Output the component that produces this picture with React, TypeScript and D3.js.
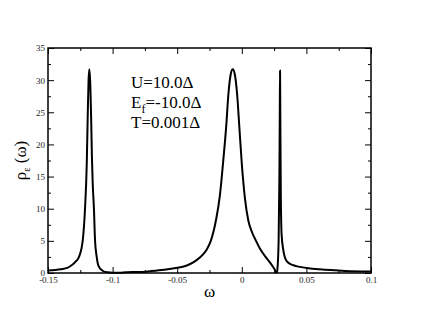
import React from 'react';
import * as d3 from 'd3';

const owidth = 430;
const oheight = 332;
const margin = { left: 48, top: 48, right: 59, bottom: 59 };
const iwidth = owidth - margin.left - margin.right;
const iheight = oheight - margin.top - margin.bottom;

// spectral function rho_eps(omega)
const omega = [
  -0.150, -0.140, -0.135, -0.1317, -0.129, -0.126, -0.1231, -0.1214, -0.1200, -0.1193, -0.1186,
  -0.1180, -0.1174, -0.1166, -0.1160, -0.1154, -0.1144, -0.1136, -0.1123, -0.1111, -0.108, -0.104,
  -0.100, -0.095, -0.090, -0.085, -0.080, -0.070, -0.060, -0.050, -0.045, -0.040, -0.035, -0.030,
  -0.027, -0.024, -0.020, -0.017, -0.0143, -0.012, -0.0105, -0.0085, -0.007, -0.0055, -0.0035,
  -0.002, 0.000, 0.0025, 0.005, 0.008, 0.011, 0.014, 0.017, 0.020, 0.023, 0.025, 0.027,
  0.0275, 0.0285, 0.0291, 0.0294, 0.0296, 0.0298, 0.0302, 0.0308, 0.0321, 0.0334, 0.036, 0.040,
  0.045, 0.053, 0.065, 0.080, 0.100,
];
const rho = [
  0.4, 0.6, 0.8, 1.2, 1.7, 2.5, 5.1, 9.8, 17, 24, 30,
  31.7, 30, 24, 18, 14, 9.8, 5.1, 2.5, 1.2, 0.4, 0.1,
  0.05, 0.05, 0.1, 0.15, 0.15, 0.3, 0.5, 0.8, 1.0, 1.4, 2.0, 2.9,
  3.7, 5.0, 8.2, 12, 17.6, 23, 27.5, 31, 31.7, 31, 27.5,
  23, 17, 11.5, 8.2, 6.3, 5.0, 3.8, 2.9, 2.1, 1.3, 0.7, 0.05,
  0.5, 5, 15, 25, 31.5, 25, 12, 6, 3.6, 2.4, 1.6, 1.2,
  0.95, 0.7, 0.5, 0.33, 0.22,
];

const xTicks = [-0.15, -0.1, -0.05, 0, 0.05, 0.1];
const xTickLabels = ['-0.15', '-0.1', '-0.05', '0', '0.05', '0.1'];
const xMinor = [-0.125, -0.075, -0.025, 0.025, 0.075];
const yTicks = [0, 5, 10, 15, 20, 25, 30, 35];
const yMinor = [2.5, 7.5, 12.5, 17.5, 22.5, 27.5, 32.5];

const annotation = [
  { main: 'U=10.0Δ', sub: '', rest: '' },
  { main: 'E', sub: 'f', rest: '=-10.0Δ' },
  { main: 'T=0.001Δ', sub: '', rest: '' },
];

const font = "'Liberation Serif', 'Times New Roman', Times, serif";

const xScale = d3.scaleLinear().domain([-0.15, 0.1]).range([0, iwidth]);
const yScale = d3.scaleLinear().domain([0, 35]).range([iheight, 0]);

function App() {
  const svgRef = React.useRef(null);

  React.useEffect(() => {
    const el = d3.select(svgRef.current);
    const g = el.select('.plot');

    const fmt = (d) => xTickLabels[xTicks.indexOf(d)];

    g.select('.xaxis')
      .call(d3.axisBottom(xScale).tickValues(xTicks).tickFormat(fmt).tickSizeInner(-6).tickSizeOuter(0).tickPadding(4));
    g.select('.xminor')
      .call(d3.axisBottom(xScale).tickValues(xMinor).tickFormat(() => '').tickSizeInner(-3).tickSizeOuter(0));
    g.select('.xtop')
      .call(d3.axisTop(xScale).tickValues(xTicks).tickFormat(() => '').tickSizeInner(-6).tickSizeOuter(0));
    g.select('.xtopminor')
      .call(d3.axisTop(xScale).tickValues(xMinor).tickFormat(() => '').tickSizeInner(-3).tickSizeOuter(0));

    g.select('.yaxis')
      .call(d3.axisLeft(yScale).tickValues(yTicks).tickSizeInner(-6).tickSizeOuter(0).tickPadding(3));
    g.select('.yminor')
      .call(d3.axisLeft(yScale).tickValues(yMinor).tickFormat(() => '').tickSizeInner(-3).tickSizeOuter(0));
    g.select('.yright')
      .call(d3.axisRight(yScale).tickValues(yTicks).tickFormat(() => '').tickSizeInner(-6).tickSizeOuter(0));
    g.select('.yrightminor')
      .call(d3.axisRight(yScale).tickValues(yMinor).tickFormat(() => '').tickSizeInner(-3).tickSizeOuter(0));

    g.selectAll('.domain').remove();
    g.selectAll('.tick line').attr('stroke', '#000');
    g.selectAll('.tick text')
      .attr('font-family', font)
      .attr('font-size', 9)
      .attr('fill', '#222');

    const pts = omega.map((w, i) => [w, rho[i]]);
    const line = d3.line()
      .x(d => xScale(d[0]))
      .y(d => yScale(d[1]))
      .curve(d3.curveMonotoneX);
    g.select('.curve')
      .datum(pts)
      .attr('d', line)
      .attr('fill', 'none')
      .attr('stroke', '#000')
      .attr('stroke-width', 2)
      .attr('stroke-linejoin', 'round');
  }, []);

  return (
    <svg
      ref={svgRef}
      width={owidth}
      height={oheight}
      viewBox={`0 0 ${owidth} ${oheight}`}
      style={{ position: 'absolute', left: 0, top: 0, background: '#fff' }}
    >
      <g className="plot" transform={`translate(${margin.left},${margin.top})`}>
        <path className="curve" />
        <g className="xaxis" transform={`translate(0,${iheight})`} />
        <g className="xminor" transform={`translate(0,${iheight})`} />
        <g className="xtop" />
        <g className="xtopminor" />
        <g className="yaxis" />
        <g className="yminor" />
        <g className="yright" transform={`translate(${iwidth},0)`} />
        <g className="yrightminor" transform={`translate(${iwidth},0)`} />
        <rect x={0} y={0} width={iwidth} height={iheight} fill="none" stroke="#000" strokeWidth={1.5} />
        <g style={{ fontFamily: font }} fontSize={17} fill="#000">
          {annotation.map((a, i) => (
            <text key={i} x={83} y={40 + i * 20}>
              {a.main}
              {a.sub && <tspan dy={5} fontSize={12}>{a.sub}</tspan>}
              {a.rest && <tspan dy={-5}>{a.rest}</tspan>}
            </text>
          ))}
        </g>
        <text x={iwidth / 2} y={iheight + 24} textAnchor="middle" style={{ fontFamily: font }} fontSize={17}>ω</text>
        <text
          transform={`translate(-22,${iheight / 2}) rotate(-90)`}
          textAnchor="middle"
          style={{ fontFamily: font }}
          fontSize={17}
        >
          ρ<tspan dy={4} fontSize={10}>ε</tspan><tspan dy={-4}> (ω)</tspan>
        </text>
      </g>
    </svg>
  );
}

export default App;
